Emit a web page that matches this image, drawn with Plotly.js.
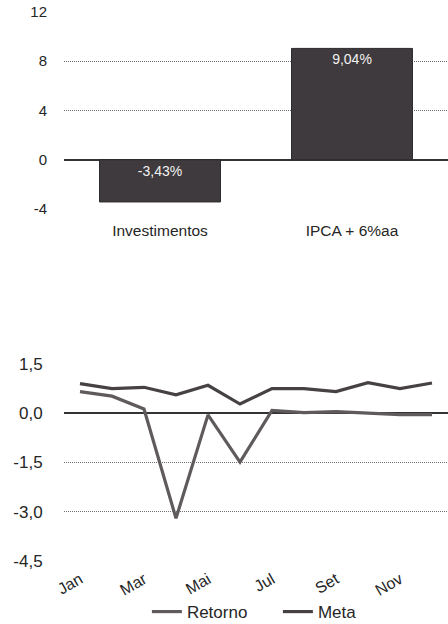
<!DOCTYPE html>
<html>
<head>
<meta charset="utf-8">
<script src="https://cdn.plot.ly/plotly-3.0.1.min.js"></script>
<style>
html,body{margin:0;padding:0;background:#fff;}
#chart{width:448px;height:624px;}
</style>
</head>
<body>
<div id="chart"></div>
<script>
// Bar chart data
var barCategories = ['Investimentos', 'IPCA + 6%aa'];
var barValues = [-3.43, 9.04];
var barTickVals = [12, 8, 4, 0, -4];
var barTickText = ['12', '8', '4', '0', '-4'];

// Line chart data
var months = ['Jan','Fev','Mar','Abr','Mai','Jun','Jul','Ago','Set','Out','Nov','Dez'];
var retorno = [0.66, 0.52, 0.13, -3.20, -0.05, -1.49, 0.09, 0.02, 0.05, 0.00, -0.04, -0.04];
var meta = [0.90, 0.75, 0.79, 0.56, 0.85, 0.28, 0.75, 0.75, 0.66, 0.93, 0.75, 0.92];
var monthTicks = ['Jan','Mar','Mai','Jul','Set','Nov'];
var lineTickVals = [1.5, 0, -1.5, -3, -4.5];
var lineTickText = ['1,5', '0,0', '-1,5', '-3,0', '-4,5'];

function fmtPct(v){ return v.toFixed(2).replace('.', ',') + '%'; }

var FAM = 'Liberation Sans, Arial, sans-serif';

var traces = [];
barCategories.forEach(function(c, i){
  traces.push({
    type: 'bar',
    x: [c],
    y: [barValues[i]],
    xaxis: 'x', yaxis: 'y',
    width: 0.63,
    marker: {color: '#3f3a3d', line: {color: '#2e2a2c', width: 1}},
    text: [fmtPct(barValues[i])],
    textposition: 'inside',
    insidetextanchor: barValues[i] < 0 ? 'start' : 'end',
    textfont: {color: '#f2f2f2', size: 14, family: FAM},
    showlegend: false,
    hoverinfo: 'skip'
  });
});

traces.push({
  type: 'scatter', mode: 'lines',
  x: months, y: retorno,
  xaxis: 'x2', yaxis: 'y2',
  name: 'Retorno',
  line: {color: '#5f5b5d', width: 3.2}
});
traces.push({
  type: 'scatter', mode: 'lines',
  x: months, y: meta,
  xaxis: 'x2', yaxis: 'y2',
  name: 'Meta',
  line: {color: '#464143', width: 3.2}
});

var tickFont = {family: FAM, size: 15, color: '#262626'};
var catFont = {family: FAM, size: 15.5, color: '#262626'};
var lineTickFont = {family: FAM, size: 17, color: '#262626'};
var monthFont = {family: FAM, size: 16, color: '#262626'};

var layout = {
  width: 448, height: 624,
  margin: {l: 64, r: 0, t: 0, b: 0, autoexpand: false},
  paper_bgcolor: '#fff', plot_bgcolor: '#fff',
  font: tickFont,
  barmode: 'overlay',
  showlegend: true,
  legend: {
    orientation: 'h',
    x: 0.557, xanchor: 'center',
    y: 0.0192, yanchor: 'middle',
    entrywidth: 86,
    bgcolor: 'rgba(0,0,0,0)',
    font: {family: FAM, size: 17, color: '#262626'},
    itemclick: false
  },
  xaxis: {
    domain: [0, 1],
    anchor: 'y',
    type: 'category',
    range: [-0.5, 1.5],
    showgrid: false, zeroline: false, showline: false,
    ticks: 'outside', ticklen: 7, tickcolor: 'rgba(0,0,0,0)',
    tickfont: catFont
  },
  yaxis: {
    domain: [0.6651, 0.9808],
    anchor: 'x',
    range: [-4, 12],
    tickvals: barTickVals, ticktext: barTickText,
    showgrid: true, gridcolor: '#6e6e6e', griddash: '1px,1px', gridwidth: 1,
    zeroline: true, zerolinecolor: '#333', zerolinewidth: 2,
    showline: false,
    ticks: 'outside', ticklen: 13, tickcolor: 'rgba(0,0,0,0)',
    tickfont: tickFont
  },
  xaxis2: {
    domain: [0, 1],
    anchor: 'y2',
    type: 'category',
    range: [-0.5, 11.5],
    tickvals: monthTicks, ticktext: monthTicks,
    tickangle: -30,
    showgrid: false, zeroline: false, showline: false,
    ticks: 'outside', ticklen: 2, tickcolor: 'rgba(0,0,0,0)',
    tickfont: monthFont
  },
  yaxis2: {
    domain: [0.10096, 0.41667],
    anchor: 'x2',
    range: [-4.5, 1.5],
    tickvals: lineTickVals, ticktext: lineTickText,
    showgrid: true, gridcolor: '#6e6e6e', griddash: '1px,1px', gridwidth: 1,
    zeroline: true, zerolinecolor: '#333', zerolinewidth: 2,
    showline: false,
    ticks: 'outside', ticklen: 17, tickcolor: 'rgba(0,0,0,0)',
    tickfont: lineTickFont
  }
};

Plotly.newPlot('chart', traces, layout, {displayModeBar: false, staticPlot: true});
</script>
</body>
</html>
